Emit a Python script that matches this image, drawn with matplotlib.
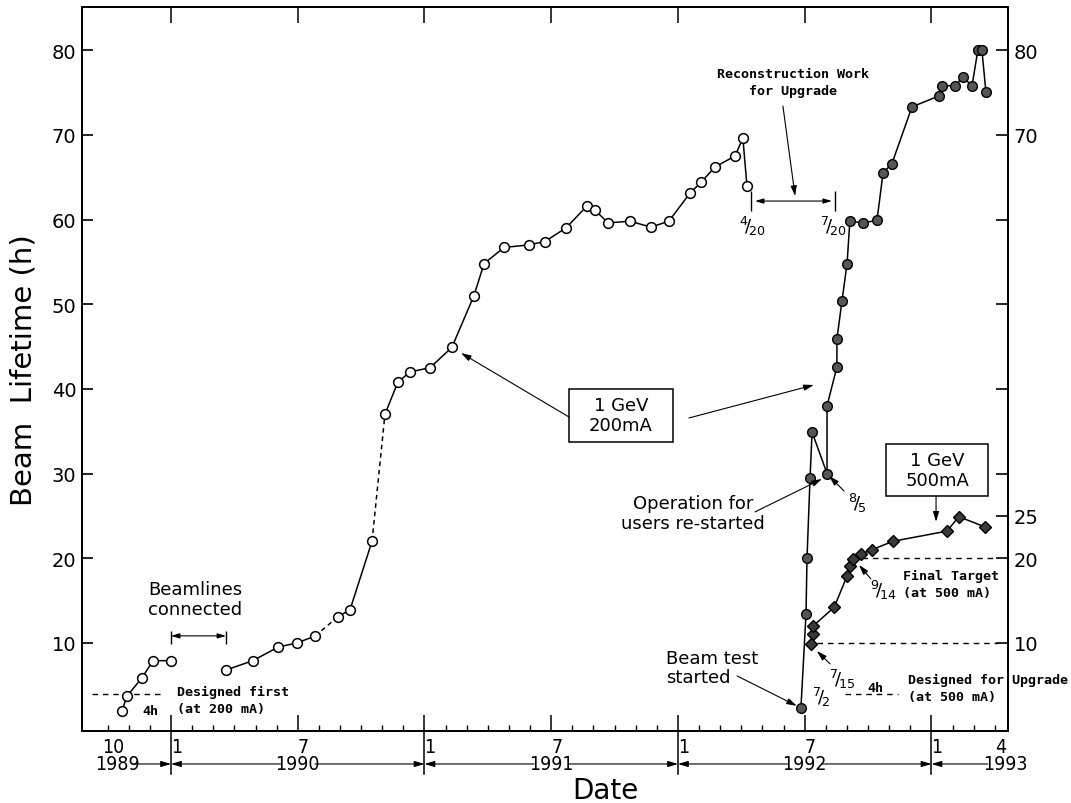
import matplotlib.pyplot as plt
from matplotlib import font_manager
from matplotlib.patches import Rectangle

# lifetime history, x in decimal years, y in hours
# 1 GeV / 200 mA before the upgrade
old_x = [1989.807, 1989.826, 1989.886, 1989.929, 1990.000,
         1990.217, 1990.323, 1990.422, 1990.497, 1990.568,
         1990.659, 1990.706, 1990.793,
         1990.844, 1990.895, 1990.943, 1991.022, 1991.108, 1991.195, 1991.235,
         1991.314, 1991.412, 1991.475, 1991.558, 1991.641, 1991.673, 1991.724,
         1991.811, 1991.893, 1991.964, 1992.047, 1992.091, 1992.146, 1992.225,
         1992.256, 1992.272]
old_y = [2.0, 3.7, 5.9, 7.9, 7.9,
         6.8, 7.9, 9.5, 10.0, 10.8,
         13.1, 13.9, 22.0,
         37.0, 40.8, 42.0, 42.5, 44.9, 51.0, 54.8,
         56.7, 57.0, 57.4, 59.0, 61.6, 61.1, 59.6,
         59.8, 59.1, 59.8, 63.1, 64.4, 66.2, 67.5,
         69.6, 64.0]

# 1 GeV / 200 mA after the upgrade
new_x = [1992.485, 1992.505, 1992.509, 1992.521, 1992.529, 1992.588, 1992.588,
         1992.627, 1992.627, 1992.647, 1992.667, 1992.678, 1992.730, 1992.785,
         1992.809, 1992.844, 1992.923, 1993.030, 1993.041, 1993.093, 1993.124,
         1993.160, 1993.183, 1993.199, 1993.215]
new_y = [2.3, 13.4, 20.0, 29.5, 34.9, 30.0, 38.0,
         42.6, 45.9, 50.4, 54.8, 59.8, 59.6, 59.9,
         65.5, 66.6, 73.3, 74.6, 75.8, 75.8, 76.8,
         75.8, 80.0, 80.0, 75.0]

# 1 GeV / 500 mA
high_x = [1992.525, 1992.533, 1992.533, 1992.616, 1992.667, 1992.678, 1992.690,
          1992.722, 1992.765, 1992.848, 1993.061, 1993.108, 1993.211]
high_y = [9.9, 11.0, 12.0, 14.2, 17.9, 19.1, 19.9,
          20.5, 21.0, 22.0, 23.2, 24.9, 23.7]

design_first = 4      # h at 200 mA
design_upgrade = 4    # h at 500 mA
final_target = 20     # h at 500 mA
mid_level = 10

left_ticks = [10, 20, 30, 40, 50, 60, 70, 80]
right_ticks = [10, 20, 25, 30, 40, 50, 60, 70, 80]
right_labels = ['10', '20', '25', '', '', '', '', '70', '80']

month_pos = [1989.75, 1990.0, 1990.5, 1991.0, 1991.5, 1992.0, 1992.5, 1993.0, 1993.25]
month_labels = ['10', '1', '7', '1', '7', '1', '7', '1', '4']
year_pos = [1989.787, 1990.5, 1991.5, 1992.5, 1993.29]
year_labels = ['1989', '1990', '1991', '1992', '1993']
year_edges = [1990.0, 1991.0, 1992.0, 1993.0]

names = {f.name for f in font_manager.fontManager.ttflist}
tick_font = 'Liberation Sans Narrow' if 'Liberation Sans Narrow' in names else 'DejaVu Sans'
mono = dict(family='DejaVu Sans Mono', fontweight='bold', fontsize=9.6)
plain = dict(family='DejaVu Sans', fontsize=13)
num = dict(family=tick_font, fontsize=14, fontstretch='condensed')
frac = dict(ha='center', va='center', fontsize=13)

fig = plt.figure(figsize=(10.71, 8.04), dpi=100)
ax = fig.add_axes([0.0766, 0.0896, 0.8646, 0.9005])
ax.set_xlim(1989.649, 1993.302)
ax.set_ylim(-0.4, 85.1)

# open circles, with the gap and the two dashed stretches
for a, b in [(0, 5), (5, 10), (10, 13), (13, len(old_x))]:
    ax.plot(old_x[a:b], old_y[a:b], color='k', lw=1.1, zorder=2)
for a, b in [(9, 11), (12, 14)]:
    ax.plot(old_x[a:b], old_y[a:b], color='k', lw=1.1, ls=(0, (3, 2.5)), zorder=2)
ax.plot(old_x, old_y, ls='none', marker='o', ms=7, mfc='white', mec='k', mew=1.1, zorder=3)

ax.plot(new_x, new_y, color='k', lw=1.1, marker='o', ms=7, mfc='#555555',
        mec='k', mew=1.0, zorder=3)
ax.plot(high_x, high_y, color='k', lw=1.1, marker='D', ms=6.5, mfc='#3a3a3a',
        mec='k', mew=1.0, zorder=4)

dash = (0, (4, 3.5))
ax.hlines(design_first, 1989.688, 1989.968, colors='k', lw=1, ls=dash)
ax.hlines(design_upgrade, 1992.659, 1992.868, colors='k', lw=1, ls=dash)
ax.hlines(final_target, 1992.726, 1993.262, colors='k', lw=1, ls=dash)
ax.hlines(mid_level, 1992.548, 1993.262, colors='k', lw=1, ls=dash)

arrow = dict(arrowstyle='-|>,head_length=0.6,head_width=0.18', lw=0.8, color='k',
             shrinkA=0, shrinkB=0)
both = dict(arrowstyle='<|-|>,head_length=0.5,head_width=0.15', lw=0.8, color='k',
            shrinkA=0, shrinkB=0)

# beamlines connected
ax.text(1990.095, 15.19, 'Beamlines\nconnected', ha='center', va='center',
        linespacing=1.1, **plain)
ax.vlines([1990.0, 1990.217], 9.88, 11.42, colors='k', lw=1)
ax.annotate('', xy=(1990.0, 10.83), xytext=(1990.217, 10.83), arrowprops=both)
ax.text(1990.024, 3.21, 'Designed first\n(at 200 mA)', ha='left', va='center',
        linespacing=1.4, **mono)
ax.text(1989.917, 1.97, '4h', ha='center', va='center', **mono)

# reconstruction period
ax.text(1992.454, 76.22, 'Reconstruction Work\nfor Upgrade', ha='center',
        va='center', linespacing=1.45, **mono)
ax.annotate('', xy=(1992.462, 62.77), xytext=(1992.414, 73.39), arrowprops=arrow)
ax.vlines([1992.288, 1992.619], 61.0, 63.36, colors='k', lw=1)
ax.annotate('', xy=(1992.304, 62.18), xytext=(1992.607, 62.18), arrowprops=both)
ax.text(1992.292, 59.34, r'$^{4}\!/\!_{20}$', **frac)
ax.text(1992.611, 59.34, r'$^{7}\!/\!_{20}$', **frac)

# 1 GeV 200mA box
ax.add_patch(Rectangle((1991.570, 33.73), 0.410, 6.26, fill=False, lw=1.1, zorder=5))
ax.text(1991.775, 36.86, '1 GeV\n200mA', ha='center', va='center',
        linespacing=1.15, **plain)
ax.annotate('', xy=(1991.144, 44.24), xytext=(1991.570, 36.68), arrowprops=arrow)
ax.annotate('', xy=(1992.536, 40.46), xytext=(1992.043, 36.56), arrowprops=arrow)

# 1 GeV 500mA box
ax.add_patch(Rectangle((1992.821, 27.35), 0.402, 6.14, fill=False, lw=1.1, zorder=5))
ax.text(1993.022, 30.42, '1 GeV\n500mA', ha='center', va='center',
        linespacing=1.15, **plain)
ax.annotate('', xy=(1993.018, 24.3), xytext=(1993.018, 27.35), arrowprops=arrow)

# restart and test labels
ax.text(1992.059, 25.35, 'Operation for\nusers re-started', ha='center',
        va='center', linespacing=1.1, **plain)
ax.annotate('', xy=(1992.568, 29.36), xytext=(1992.304, 25.47), arrowprops=arrow)
ax.text(1992.706, 26.64, r'$^{8}\!/\!_{5}$', **frac)
ax.annotate('', xy=(1992.596, 29.71), xytext=(1992.655, 27.94), arrowprops=arrow)
ax.text(1992.809, 16.37, r'$^{9}\!/\!_{14}$', **frac)
ax.annotate('', xy=(1992.714, 19.21), xytext=(1992.761, 17.55), arrowprops=arrow)
ax.text(1992.647, 5.75, r'$^{7}\!/\!_{15}$', **frac)
ax.annotate('', xy=(1992.548, 9.05), xytext=(1992.600, 7.52), arrowprops=arrow)
ax.text(1992.564, 3.62, r'$^{7}\!/\!_{2}$', **frac)
ax.text(1991.953, 7.11, 'Beam test\nstarted', ha='left', va='center',
        linespacing=1.1, **plain)
ax.annotate('', xy=(1992.469, 2.56), xytext=(1992.233, 6.10), arrowprops=arrow)

ax.text(1992.888, 16.96, 'Final Target\n(at 500 mA)', ha='left', va='center',
        linespacing=1.4, **mono)
ax.text(1992.777, 4.69, '4h', ha='center', va='center', **mono)
ax.text(1992.907, 4.63, 'Designed for Upgrade\n(at 500 mA)', ha='left',
        va='center', linespacing=1.4, **mono)

# axes and ticks
for s in ax.spines.values():
    s.set_linewidth(1.4)
ax.set_yticks(left_ticks)
ax.tick_params(axis='y', direction='in', length=8, width=1.2, pad=4,
               labelsize=14, labelfontfamily=tick_font)

jan_jul = [1990.0 + 0.5 * i for i in range(7)]
months = [1989.75 + i / 12 for i in range(43)]
minor = [m for m in months if min(abs(m - j) for j in jan_jul) > 1e-3]
ax.set_xticks(jan_jul)
ax.set_xticks(minor, minor=True)
ax.tick_params(axis='x', which='major', direction='in', length=11.5, width=1.1,
               top=True, labelbottom=False)
ax.tick_params(axis='x', which='minor', direction='in', length=4.3, width=1.0,
               top=False)

xt = ax.get_xaxis_transform()
for p, lab in zip(month_pos, month_labels):
    ax.text(p + 0.022, -0.021, lab, transform=xt, ha='center', va='center', **num)
for p, lab in zip(year_pos, year_labels):
    ax.text(p, -0.0456, lab, transform=xt, ha='center', va='center', **num)
    w = 0.068
    left = [e for e in year_edges if e < p]
    right = [e for e in year_edges if e > p]
    if left:
        ax.annotate('', xy=(left[-1], -0.0456), xytext=(p - w, -0.0456),
                    xycoords=xt, textcoords=xt, arrowprops=arrow, annotation_clip=False)
    if right:
        ax.annotate('', xy=(right[0], -0.0456), xytext=(p + w, -0.0456),
                    xycoords=xt, textcoords=xt, arrowprops=arrow, annotation_clip=False)
for e in year_edges:
    ax.plot([e, e], [0, -0.06], transform=xt, color='k', lw=1.1, clip_on=False)

ax2 = ax.twinx()
ax2.set_ylim(ax.get_ylim())
ax2.set_yticks(right_ticks, right_labels)
ax2.tick_params(axis='y', direction='in', length=8.5, width=1.2, pad=4,
                labelsize=14, labelfontfamily=tick_font)
for s in ax2.spines.values():
    s.set_linewidth(1.4)

ax.set_ylabel('Beam  Lifetime (h)', fontsize=21, family='DejaVu Sans')
ax.yaxis.set_label_coords(-0.048, 0.5)
ax.set_xlabel('Date', fontsize=20, family='DejaVu Sans')
ax.xaxis.set_label_coords(0.565, -0.062)

fig.savefig('out.png', dpi=100)
